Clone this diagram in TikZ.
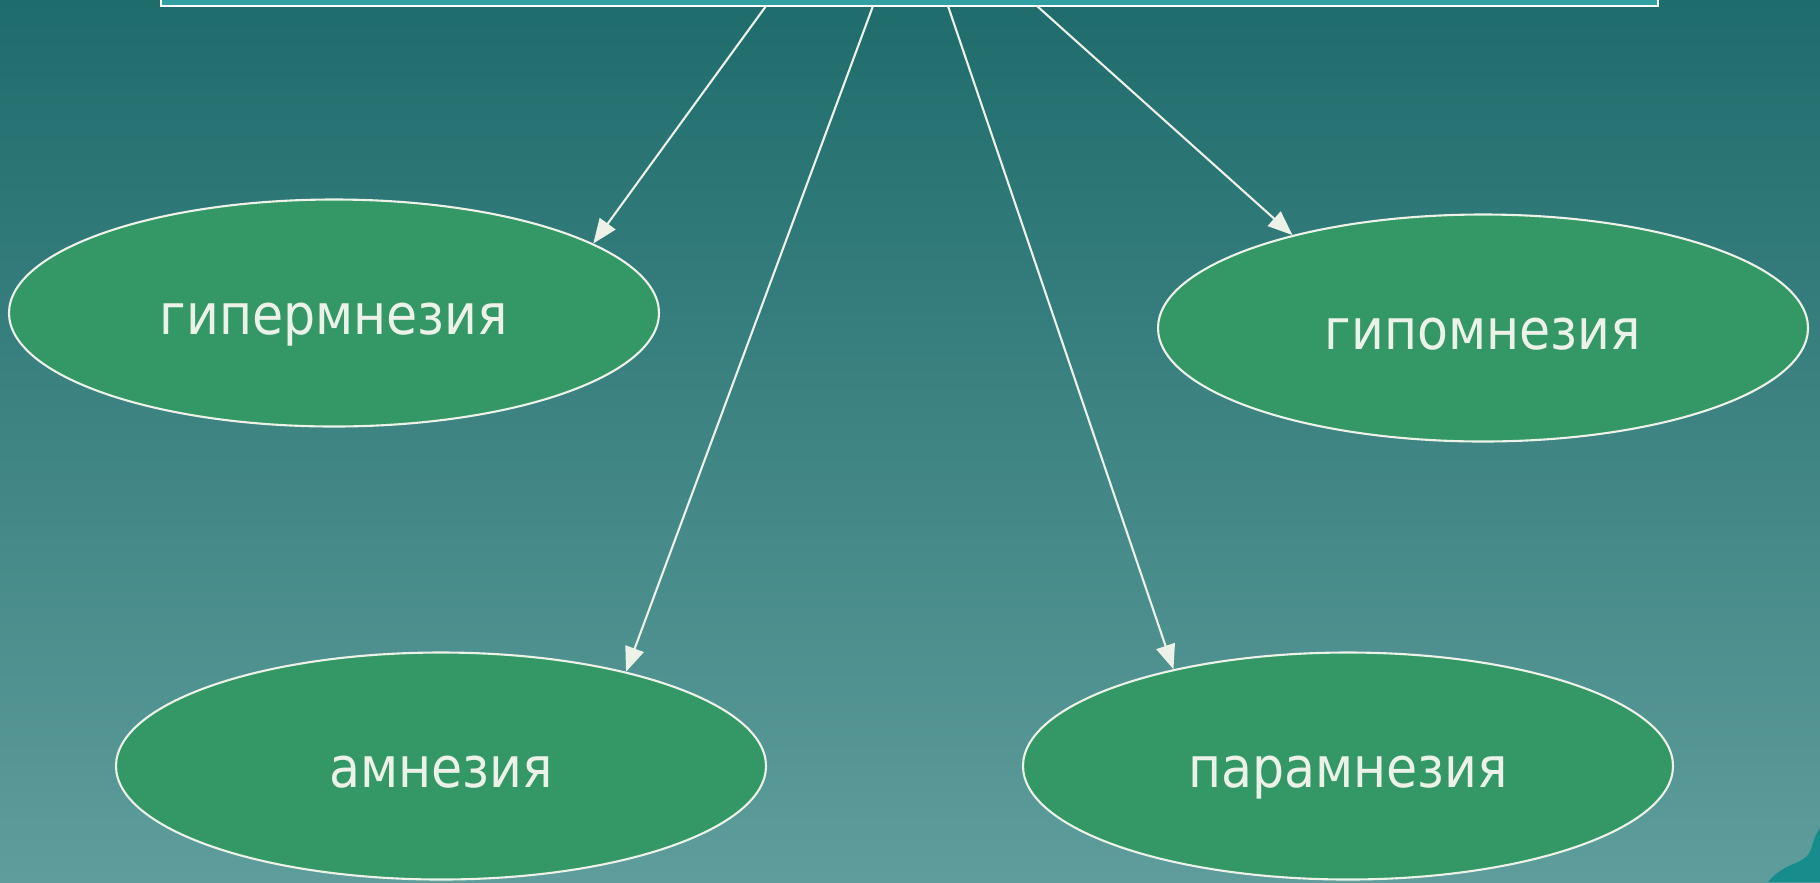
\documentclass[tikz,border=0pt]{standalone}
\usepackage{fontspec}
\setmainfont{DejaVu Sans Condensed}
\usetikzlibrary{shapes.geometric,arrows.meta}

\definecolor{bgtop}{RGB}{31,108,108}
\definecolor{bgbottom}{RGB}{94,157,155}
\definecolor{ovalgreen}{RGB}{52,152,102}
\definecolor{paletext}{RGB}{236,242,232}
\definecolor{boxteal}{RGB}{50,160,160}
\definecolor{cornerteal}{RGB}{22,140,140}

\tikzset{
  oval/.style={ellipse, draw=paletext, line width=0.6pt, fill=ovalgreen,
    minimum width=6.5cm, minimum height=2.27cm, inner sep=0pt,
    text height=12.4pt, text depth=0pt,
    text=paletext, font=\fontsize{16pt}{16pt}\selectfont},
  link/.style={draw=paletext, line width=0.6pt, -{Triangle[length=7pt,width=5.5pt]}}
}

\begin{document}
\begin{tikzpicture}[x=0.1mm,y=-0.1mm]
            % background
            \shade [top color=bgtop, bottom color=bgbottom] (0,0) rectangle (1820,882);
            \useasboundingbox (0,0) rectangle (1820,882);
            % top box, cut by the edge
            \node [draw=white, line width=0.8pt, fill=boxteal, minimum width=14.97cm, minimum height=0.6cm, inner sep=0pt] (head) at (909.5,-24) {};
            % corner leaf bottom right
            \fill [cornerteal] (1768,882) .. controls (1788,858) and (1806,868) .. (1812,846) .. controls (1815,836) .. (1820,828) -- (1820,882) -- cycle;
            % ovals
            \node [oval] (hyper) at (334,313) {гипермнезия};
            \node [oval] (hypo) at (1483,328) {гипомнезия};
            \node [oval] (amn) at (441,766) {амнезия};
            \node [oval] (para) at (1348,766) {парамнезия};
            % start points on the box
            \coordinate (s1) at (766,6);
            \coordinate (s2) at (873,6);
            \coordinate (s3) at (948,6);
            \coordinate (s4) at (1037,6);
            % arrows
            \draw [link] (s1) -- (hyper.15);
            \draw [link] (s2) -- (amn.27);
            \draw [link] (s3) -- (para.151);
            \draw [link] (s4) -- (hypo.154);
\end{tikzpicture}
\end{document}
